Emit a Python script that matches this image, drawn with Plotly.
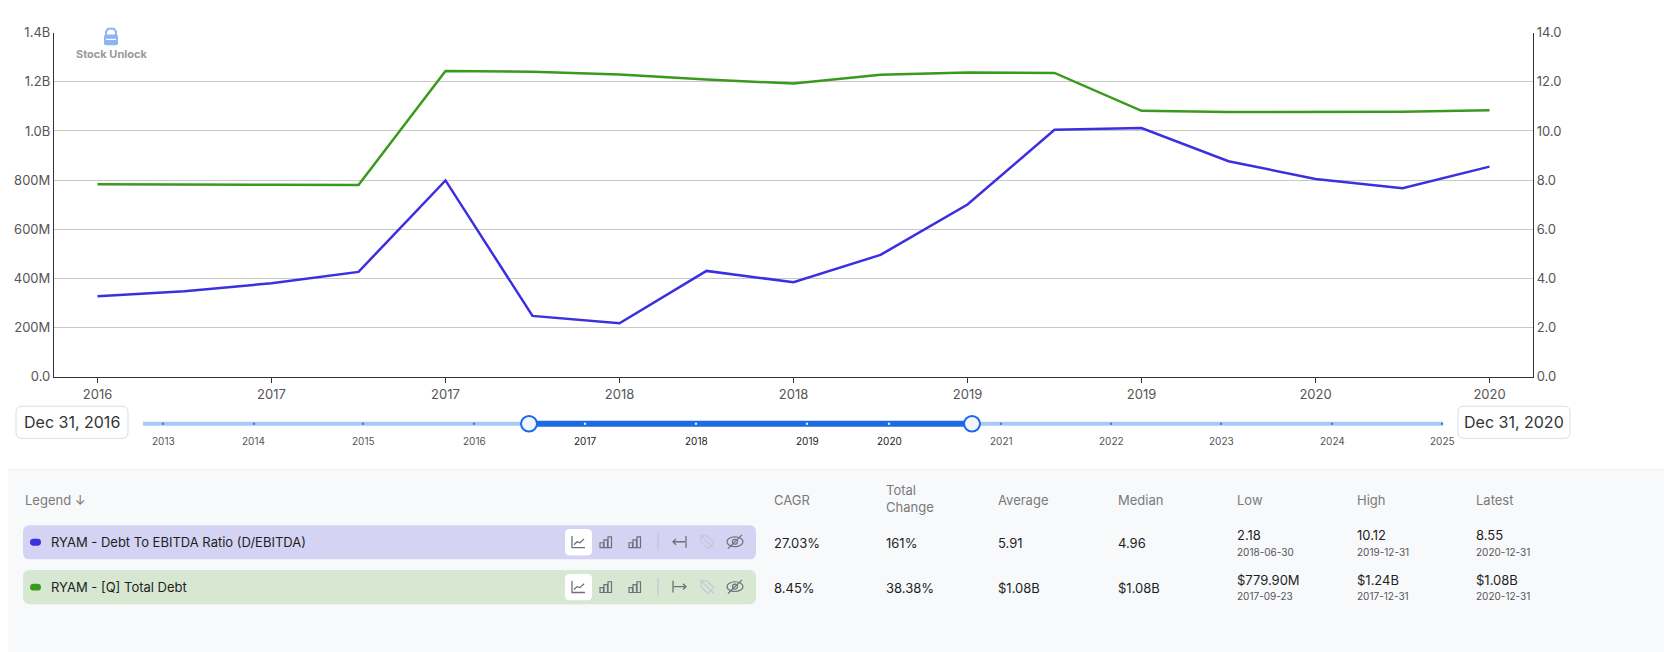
import plotly.graph_objects as go

W, H = 1672, 652

# ---- data ----
dates = ["2016-12-31", "2017-03-31", "2017-06-30", "2017-09-23", "2017-12-31",
         "2018-03-31", "2018-06-30", "2018-09-30", "2018-12-31", "2019-03-31",
         "2019-06-30", "2019-09-30", "2019-12-31", "2020-03-31", "2020-06-30",
         "2020-09-30", "2020-12-31"]
tick_labels = ["2016", "2017", "2017", "2018", "2018", "2019", "2019", "2020", "2020"]
debt_to_ebitda = [3.28, 3.48, 3.81, 4.27, 7.99, 2.48, 2.18, 4.31, 3.85, 4.96,
                  7.01, 10.05, 10.12, 8.77, 8.05, 7.67, 8.55]
total_debt = [783.5e6, 781e6, 781e6, 779.9e6, 1.244e9, 1.241e9, 1.230e9, 1.209e9,
              1.193e9, 1.229e9, 1.238e9, 1.236e9, 1.082e9, 1.077e9, 1.076e9,
              1.078e9, 1.084e9]

left_ticks = [0, 200e6, 400e6, 600e6, 800e6, 1.0e9, 1.2e9, 1.4e9]
left_labels = ["0.0", "200M", "400M", "600M", "800M", "1.0B", "1.2B", "1.4B"]
right_ticks = [0, 2, 4, 6, 8, 10, 12, 14]
right_labels = ["0.0", "2.0", "4.0", "6.0", "8.0", "10.0", "12.0", "14.0"]

slider_years = ["2013", "2014", "2015", "2016", "2017", "2018", "2019", "2020",
                "2021", "2022", "2023", "2024", "2025"]
slider_year_x = [155, 246, 355, 466, 577, 688, 799, 881, 993, 1103, 1213, 1324, 1434]
selected_years = ["2017", "2018", "2019", "2020"]

headers = ["CAGR", "Total<br>Change", "Average", "Median", "Low", "High", "Latest"]
rows = [
    {"name": "RYAM - Debt To EBITDA Ratio (D/EBITDA)", "color": "#3b2fe0", "band": "#d5d3f4",
     "values": ["27.03%", "161%", "5.91", "4.96", "2.18", "10.12", "8.55"],
     "dates": ["", "", "", "", "2018-06-30", "2019-12-31", "2020-12-31"]},
    {"name": "RYAM - [Q] Total Debt", "color": "#3a9a1e", "band": "#d6e8d2",
     "values": ["8.45%", "38.38%", "$1.08B", "$1.08B", "$779.90M", "$1.24B", "$1.08B"],
     "dates": ["", "", "", "", "2017-09-23", "2017-12-31", "2020-12-31"]},
]
col_x = [764, 876, 988, 1108, 1227, 1347, 1466]


def X(p):
    return p / W


def Y(p):
    return 1 - p / H


def rrect(x0, y0, x1, y1, r):
    # rounded rectangle path in paper coords, built from pixel coords
    pts = [
        f"M {X(x0 + r)},{Y(y0)}", f"L {X(x1 - r)},{Y(y0)}", f"Q {X(x1)},{Y(y0)} {X(x1)},{Y(y0 + r)}",
        f"L {X(x1)},{Y(y1 - r)}", f"Q {X(x1)},{Y(y1)} {X(x1 - r)},{Y(y1)}",
        f"L {X(x0 + r)},{Y(y1)}", f"Q {X(x0)},{Y(y1)} {X(x0)},{Y(y1 - r)}",
        f"L {X(x0)},{Y(y0 + r)}", f"Q {X(x0)},{Y(y0)} {X(x0 + r)},{Y(y0)}", "Z",
    ]
    return " ".join(pts)


def poly(points, close=False):
    s = " ".join(("M" if i == 0 else "L") + f" {X(a)},{Y(b)}" for i, (a, b) in enumerate(points))
    return s + (" Z" if close else "")


def label(px_x, px_y, text, font, xanchor="left", align="left"):
    return dict(x=X(px_x), y=Y(px_y), xref="paper", yref="paper", text=text, showarrow=False,
                font=font, xanchor=xanchor, yanchor="middle", align=align)


FONT = "Inter, Roboto, sans-serif"

fig = go.Figure()
fig.add_trace(go.Scatter(x=dates, y=total_debt, mode="lines", name="RYAM - [Q] Total Debt",
                         line=dict(color="#3a9a1e", width=2.5), yaxis="y"))
fig.add_trace(go.Scatter(x=dates, y=debt_to_ebitda, mode="lines",
                         name="RYAM - Debt To EBITDA Ratio (D/EBITDA)",
                         line=dict(color="#3b2fe0", width=2.5), yaxis="y2"))

shapes = []
ann = []

# watermark
shapes.append(dict(type="path", xref="paper", yref="paper", path=rrect(96, 19, 110, 30, 2),
                   fillcolor="#8fb4f6", line=dict(width=0), layer="above"))
shapes.append(dict(type="path", xref="paper", yref="paper",
                   path=poly([(98, 20), (98, 16), (100, 13), (106, 13), (108, 16), (108, 20)]),
                   line=dict(color="#8fb4f6", width=2), layer="above"))
shapes.append(dict(type="line", xref="paper", yref="paper", x0=X(98), x1=X(108), y0=Y(24), y1=Y(24),
                   line=dict(color="white", width=1.2), layer="above"))
ann.append(label(103, 39, "<b>Stock Unlock</b>", dict(family=FONT, size=11, color="#9a9a9a"),
                 xanchor="center"))

# date boxes
for bx0, bx1, txt in [(8, 120, "Dec 31, 2016"), (1450, 1562, "Dec 31, 2020")]:
    shapes.append(dict(type="path", xref="paper", yref="paper", path=rrect(bx0, 400, bx1, 433, 6),
                       fillcolor="white", line=dict(color="#dddddd", width=1)))
    ann.append(label((bx0 + bx1) / 2, 416.5, txt, dict(family=FONT, size=16, color="#333333"),
                     xanchor="center"))

# slider track
shapes.append(dict(type="line", xref="paper", yref="paper", x0=X(135), x1=X(1435), y0=Y(418), y1=Y(418),
                   line=dict(color="#a9c8f4", width=4)))
shapes.append(dict(type="line", xref="paper", yref="paper", x0=X(521), x1=X(964), y0=Y(418), y1=Y(418),
                   line=dict(color="#1d6ae5", width=6)))
for yr, sx in zip(slider_years, slider_year_x):
    sel = yr in selected_years
    dot = "#e8f0fd" if sel else "#3b7be8"
    shapes.append(dict(type="circle", xref="paper", yref="paper", x0=X(sx - 1.2), x1=X(sx + 1.2),
                       y0=Y(419.2), y1=Y(416.8), fillcolor=dot, line=dict(width=0)))
    ann.append(label(sx, 436, yr, dict(family=FONT, size=10, color="#222222" if sel else "#555555"),
                     xanchor="center"))
for hx in [521, 964]:
    shapes.append(dict(type="circle", xref="paper", yref="paper", x0=X(hx - 8), x1=X(hx + 8),
                       y0=Y(426), y1=Y(410), fillcolor="#f2f6fe", line=dict(color="#1d6ae5", width=2)))

# legend table background
shapes.append(dict(type="rect", xref="paper", yref="paper", x0=0, x1=1, y0=0, y1=Y(465),
                   fillcolor="#f8f9fb", line=dict(width=0), layer="below"))
shapes.append(dict(type="line", xref="paper", yref="paper", x0=0, x1=1, y0=Y(465), y1=Y(465),
                   line=dict(color="#f0f1f4", width=1)))

HDR = dict(family=FONT, size=13, color="#7a7a7a")
ann.append(label(15, 496, "Legend \u2193", HDR))
for hx, h in zip(col_x, headers):
    ann.append(label(hx, 496 if "<br>" not in h else 495, h, HDR))

ICON = "#6f6f7a"
VAL = dict(family=FONT, size=13, color="#1e1e1e")
SUB = dict(family=FONT, size=10, color="#555555")
for i, row in enumerate(rows):
    yc = 539 + i * 46
    shapes.append(dict(type="path", xref="paper", yref="paper", path=rrect(15, yc - 17, 748, yc + 18, 7),
                       fillcolor=row["band"], line=dict(width=0)))
    shapes.append(dict(type="path", xref="paper", yref="paper", path=rrect(22, yc - 3, 33, yc + 4, 3.5),
                       fillcolor=row["color"], line=dict(width=0)))
    ann.append(label(41, yc + 0.5, row["name"], VAL))
    # line chart icon (active)
    shapes.append(dict(type="path", xref="paper", yref="paper", path=rrect(557, yc - 13, 584, yc + 14, 5),
                       fillcolor="white", line=dict(width=0)))
    shapes.append(dict(type="path", xref="paper", yref="paper",
                       path=poly([(564, yc - 6), (564, yc + 6), (577, yc + 6)]), line=dict(color=ICON, width=1.3)))
    shapes.append(dict(type="path", xref="paper", yref="paper",
                       path=poly([(566, yc + 3), (569, yc), (572, yc + 1), (576, yc - 3)]),
                       line=dict(color=ICON, width=1.3)))
    # bar icons
    for bx in [598, 627]:
        for k, hgt in enumerate([5, 8, 11]):
            x0 = bx - 6 + k * 4
            shapes.append(dict(type="rect", xref="paper", yref="paper", x0=X(x0), x1=X(x0 + 3.5),
                               y0=Y(yc + 6), y1=Y(yc + 6 - hgt), line=dict(color=ICON, width=1.2)))
    shapes.append(dict(type="line", xref="paper", yref="paper", x0=X(650), x1=X(650), y0=Y(yc - 9), y1=Y(yc + 9),
                       line=dict(color="#c0bfcc", width=1)))
    # arrow to bar icon
    if i == 0:
        shapes.append(dict(type="path", xref="paper", yref="paper",
                           path=poly([(665, yc), (677, yc)]) + " " + poly([(668, yc - 3), (665, yc), (668, yc + 3)]),
                           line=dict(color=ICON, width=1.3)))
        shapes.append(dict(type="line", xref="paper", yref="paper", x0=X(678), x1=X(678), y0=Y(yc - 6), y1=Y(yc + 6),
                           line=dict(color=ICON, width=1.3)))
    else:
        shapes.append(dict(type="path", xref="paper", yref="paper",
                           path=poly([(666, yc), (678, yc)]) + " " + poly([(675, yc - 3), (678, yc), (675, yc + 3)]),
                           line=dict(color=ICON, width=1.3)))
        shapes.append(dict(type="line", xref="paper", yref="paper", x0=X(665), x1=X(665), y0=Y(yc - 6), y1=Y(yc + 6),
                           line=dict(color=ICON, width=1.3)))
    # faded tag icon
    shapes.append(dict(type="path", xref="paper", yref="paper",
                       path=poly([(693, yc - 6), (699, yc - 6), (706, yc + 1), (700, yc + 7), (693, yc)], close=True),
                       line=dict(color="#c8c6d6", width=1.2)))
    shapes.append(dict(type="line", xref="paper", yref="paper", x0=X(692), x1=X(706), y0=Y(yc - 7), y1=Y(yc + 7),
                       line=dict(color="#c8c6d6", width=1.2)))
    # eye-off icon
    shapes.append(dict(type="circle", xref="paper", yref="paper", x0=X(719), x1=X(735), y0=Y(yc + 5), y1=Y(yc - 5),
                       line=dict(color=ICON, width=1.2)))
    shapes.append(dict(type="circle", xref="paper", yref="paper", x0=X(724.5), x1=X(729.5), y0=Y(yc + 2.5),
                       y1=Y(yc - 2.5), line=dict(color=ICON, width=1.2)))
    shapes.append(dict(type="line", xref="paper", yref="paper", x0=X(720), x1=X(734), y0=Y(yc + 7), y1=Y(yc - 7),
                       line=dict(color=ICON, width=1.2)))
    # stats
    for cx, v, d in zip(col_x, row["values"], row["dates"]):
        if d:
            ann.append(label(cx, yc - 7, v, VAL))
            ann.append(label(cx, yc + 10, d, SUB))
        else:
            ann.append(label(cx, yc + 1, v, VAL))

fig.update_layout(
    width=W, height=H,
    margin=dict(l=0, r=0, t=0, b=0),
    paper_bgcolor="white", plot_bgcolor="white",
    showlegend=False,
    font=dict(family=FONT, size=13, color="#555555"),
    xaxis=dict(domain=[X(46), X(1525)], type="category", range=[-0.5, 16.5],
               tickmode="array", tickvals=dates[::2], ticktext=tick_labels,
               showline=True, linecolor="#333333", linewidth=1.2, ticks="outside", ticklen=5,
               tickcolor="#333333", showgrid=False, tickfont=dict(size=13, color="#555555")),
    yaxis=dict(domain=[Y(370), Y(17)], range=[0, 1.4e9], tickmode="array", tickvals=left_ticks,
               ticktext=left_labels, showline=True, linecolor="#333333", linewidth=1.2,
               gridcolor="#c8c8c8", gridwidth=1, zeroline=False, tickfont=dict(size=13, color="#555555")),
    yaxis2=dict(overlaying="y", side="right", range=[0, 14], tickmode="array", tickvals=right_ticks,
                ticktext=right_labels, showline=True, linecolor="#333333", linewidth=1.2,
                showgrid=False, zeroline=False, tickfont=dict(size=13, color="#555555")),
    shapes=shapes,
    annotations=ann,
)

fig.write_html("out.html")
